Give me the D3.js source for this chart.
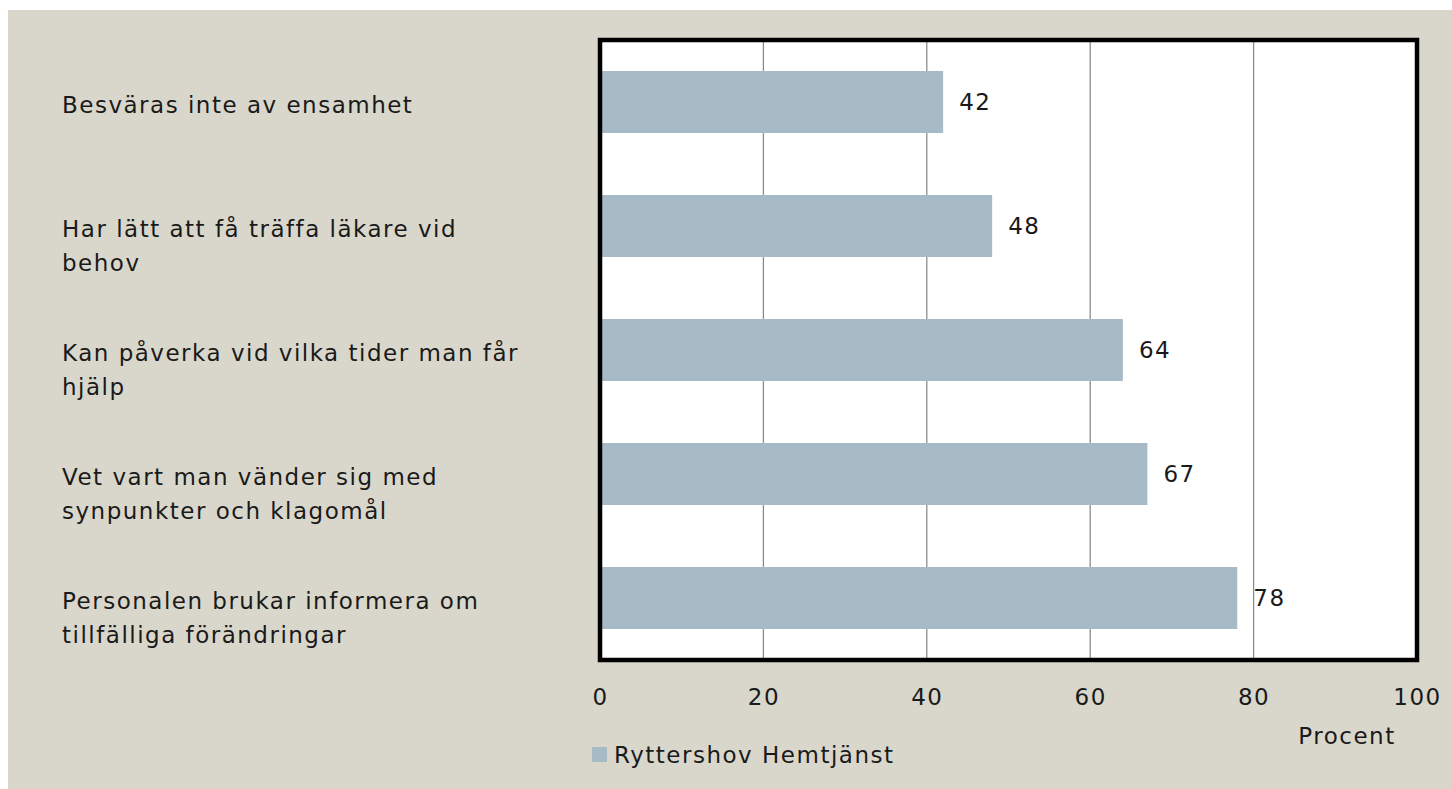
<!doctype html>
<html>
  <head>
    <meta charset="utf-8">
    <script src="https://cdnjs.cloudflare.com/ajax/libs/d3/7.8.5/d3.min.js"></script>
    <style>
      body { margin: 0; background: #fff; }
      svg text { font-family: "DejaVu Sans", sans-serif; fill: #1a1a1a; font-size: 23px; letter-spacing: 1.5px; }
    </style>
  </head>
  <body>
    <svg width="1452" height="789"></svg>
    <script>
      // data
      var categories = [
        "Besväras inte av ensamhet",
        "Har lätt att få träffa läkare vid behov",
        "Kan påverka vid vilka tider man får hjälp",
        "Vet vart man vänder sig med synpunkter och klagomål",
        "Personalen brukar informera om tillfälliga förändringar"
      ];
      var categoryLines = [
        ["Besväras inte av ensamhet"],
        ["Har lätt att få träffa läkare vid", "behov"],
        ["Kan påverka vid vilka tider man får", "hjälp"],
        ["Vet vart man vänder sig med", "synpunkter och klagomål"],
        ["Personalen brukar informera om", "tillfälliga förändringar"]
      ];
      var values = [42, 48, 64, 67, 78];
      var xTicks = [0, 20, 40, 60, 80, 100];
      var seriesName = "Ryttershov Hemtjänst";
      var axisTitle = "Procent";

      var svg = d3.select("svg");

      svg.append("rect")
        .attr("x", 8).attr("y", 10)
        .attr("width", 1444).attr("height", 779)
        .style("fill", "#d9d7cb");

      var plotLeft = 600, plotRight = 1417, plotTop = 40, plotBottom = 660;

      var x = d3.scaleLinear().domain([0, 100]).range([plotLeft, plotRight]);
      var y = d3.scaleBand().domain(categories).range([plotTop, plotBottom])
        .paddingInner(0.5).paddingOuter(0.25);

      svg.append("rect")
        .attr("x", plotLeft).attr("y", plotTop)
        .attr("width", plotRight - plotLeft).attr("height", plotBottom - plotTop)
        .style("fill", "#fff");

      // grid lines
      svg.append("g").selectAll("line").data(xTicks.slice(1, -1))
        .enter().append("line")
          .attr("x1", d => x(d)).attr("x2", d => x(d))
          .attr("y1", plotTop).attr("y2", plotBottom)
          .style("stroke", "#8c8c8c").style("stroke-width", 1.3);

      svg.append("g").selectAll("rect").data(values)
        .enter().append("rect")
          .attr("x", x(0))
          .attr("y", (d, i) => y(categories[i]))
          .attr("width", d => x(d) - x(0))
          .attr("height", y.bandwidth())
          .style("fill", "#a7bbc6");

      svg.append("g").selectAll("text").data(values)
        .enter().append("text")
          .attr("x", d => x(d) + 16)
          .attr("y", (d, i) => y(categories[i]) + y.bandwidth() / 2)
          .attr("dy", "0.36em")
          .text(d => d);

      // frame
      svg.append("rect")
        .attr("x", plotLeft).attr("y", plotTop)
        .attr("width", plotRight - plotLeft).attr("height", plotBottom - plotTop)
        .style("fill", "none").style("stroke", "#000").style("stroke-width", 4.5);

      // x axis labels
      var xAxis = d3.axisBottom(x).tickValues(xTicks).tickSize(0).tickPadding(0);
      var gx = svg.append("g")
        .attr("transform", "translate(0," + (plotBottom + 29) + ")")
        .call(xAxis);
      gx.select(".domain").remove();
      gx.selectAll("text")
        .attr("font-size", null)
        .attr("font-family", null)
        .style("font-size", "23px")
        .style("font-family", "DejaVu Sans, sans-serif")
        .style("fill", "#1a1a1a");

      svg.append("text")
        .attr("x", 1347).attr("y", 736)
        .attr("dy", "0.36em")
        .attr("text-anchor", "middle")
        .text(axisTitle);

      // category labels, first line level with the bar
      var labels = svg.append("g").selectAll("text").data(categoryLines)
        .enter().append("text")
          .attr("x", 62)
          .attr("y", (d, i) => y(categories[i]) + y.bandwidth() / 2 + 3);
      labels.selectAll("tspan").data(d => d)
        .enter().append("tspan")
          .attr("x", 62)
          .attr("dy", (d, j) => j === 0 ? "0.36em" : "34")
          .text(d => d);

      // legend
      svg.append("rect")
        .attr("x", 592).attr("y", 747)
        .attr("width", 15).attr("height", 15)
        .style("fill", "#a7bbc6");
      svg.append("text")
        .attr("x", 614).attr("y", 755)
        .attr("dy", "0.36em")
        .text(seriesName);
    </script>
  </body>
</html>
